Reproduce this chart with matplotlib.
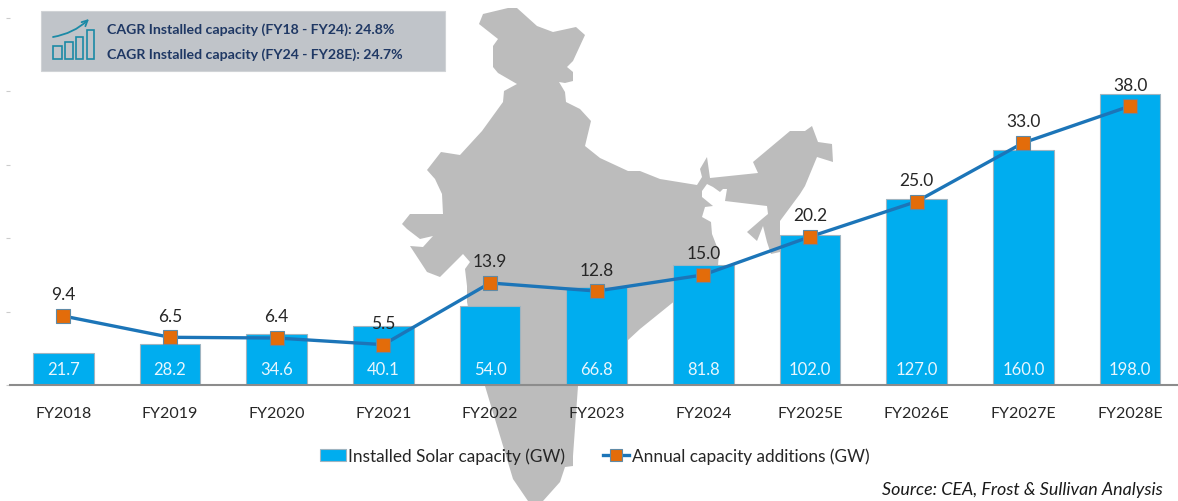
import matplotlib
matplotlib.use('Agg')
from matplotlib import pyplot as plt
from matplotlib.patches import Polygon, Rectangle, FancyArrowPatch
from matplotlib.lines import Line2D

plt.rcParams['font.family'] = ['Lato', 'DejaVu Sans']

years = ['FY2018', 'FY2019', 'FY2020', 'FY2021', 'FY2022', 'FY2023', 'FY2024',
         'FY2025E', 'FY2026E', 'FY2027E', 'FY2028E']
installed = [21.7, 28.2, 34.6, 40.1, 54.0, 66.8, 81.8, 102.0, 127.0, 160.0, 198.0]
additions = [9.4, 6.5, 6.4, 5.5, 13.9, 12.8, 15.0, 20.2, 25.0, 33.0, 38.0]
cagr_lines = ['CAGR Installed capacity (FY18 - FY24): 24.8%',
              'CAGR Installed capacity (FY24 - FY28E): 24.7%']

# outline of the background map, in image pixels
india = [(517, 9), (537, 27), (553, 33), (576, 28), (585, 36), (573, 62), (567, 68),
         (573, 73), (573, 82), (565, 84), (559, 83), (565, 93), (566, 103), (580, 110),
         (591, 122), (585, 147), (600, 159), (628, 172), (640, 172), (660, 180),
         (697, 186), (702, 178), (700, 170), (707, 158), (710, 179), (758, 174),
         (753, 163), (790, 132), (805, 132), (812, 127), (818, 143), (832, 145),
         (833, 163), (817, 158), (805, 187), (800, 195), (780, 222), (780, 253),
         (771, 255), (767, 243), (763, 227), (757, 242), (747, 233), (762, 220),
         (768, 215), (767, 207), (725, 202), (727, 190), (723, 190), (720, 193),
         (713, 188), (707, 185), (702, 192), (702, 198), (713, 207), (705, 208),
         (702, 218), (711, 223), (712, 235), (719, 253), (718, 267), (640, 330),
         (627, 342), (578, 387), (573, 457), (573, 467), (565, 468), (560, 483),
         (543, 502), (528, 502), (513, 480), (485, 387), (467, 303), (467, 287),
         (465, 270), (470, 263), (463, 255), (440, 278), (427, 273), (410, 247),
         (423, 248), (433, 237), (420, 240), (407, 230), (402, 225), (410, 215),
         (443, 215), (442, 195), (435, 180), (427, 171), (441, 153), (460, 156),
         (482, 132), (503, 103), (504, 92), (517, 85), (498, 74), (493, 68),
         (493, 47), (498, 40), (479, 25), (483, 15), (508, 9)]

W, H = 1178, 502
fig = plt.figure(figsize=(W / 100, H / 100), dpi=100, facecolor='white')

# background layer in pixel coordinates
bg = fig.add_axes([0, 0, 1, 1])
bg.set_xlim(0, W)
bg.set_ylim(H, 0)
bg.axis('off')
bg.add_patch(Polygon(india, closed=True, fc='#bcbcbc', ec='none'))

# chart
ax = fig.add_axes([10 / W, (H - 386) / H, (W - 10) / W, 367 / H])
ax.patch.set_alpha(0)
x = range(len(years))
bars = ax.bar(x, installed, width=0.57, color='#00adef', edgecolor='#9fb4c0', linewidth=0.8,
              label='Installed Solar capacity (GW)')
ax.set_xlim(-0.5, 10.45)
ax.set_ylim(0, 250)
ax.set_yticks(range(0, 251, 50))
ax.set_yticklabels([])
ax.tick_params(axis='y', length=3, color='#cccccc', width=0.8)
ax.tick_params(axis='x', length=0, pad=15, labelsize=11.5, labelcolor='#262626')
ax.set_xticks(list(x))
ax.set_xticklabels(years)
for s in ['top', 'right', 'left']:
    ax.spines[s].set_visible(False)
ax.spines['bottom'].set_color('#8c8c8c')
ax.spines['bottom'].set_linewidth(1.5)

for i, v in enumerate(installed):
    ax.annotate('{:.1f}'.format(v), (i, 0), xytext=(0, 11.5), textcoords='offset points',
                ha='center', va='center', color='#e8f6fd', fontsize=12, zorder=6)

ax2 = ax.twinx()
ax2.patch.set_alpha(0)
ax2.set_ylim(0, 50)
ax2.axis('off')
ax2.plot(x, additions, color='#1c75b8', linewidth=2.4, marker='s', markersize=9.5,
         markerfacecolor='#e36c0a', markeredgecolor='#5f8aa6', markeredgewidth=0.8,
         label='Annual capacity additions (GW)')
for i, v in enumerate(additions):
    ax2.annotate('{:.1f}'.format(v), (i, v), xytext=(0, 15.5), textcoords='offset points',
                 ha='center', va='center', color='#262626', fontsize=12.5)

# legend
handles = [bars, Line2D([], [], color='#1c75b8', linewidth=2.4, marker='s', markersize=8.5,
                        markerfacecolor='#e36c0a', markeredgecolor='#5f8aa6',
                        markeredgewidth=0.8)]
labels = ['Installed Solar capacity (GW)', 'Annual capacity additions (GW)']
fig.legend(handles, labels, loc='center', bbox_to_anchor=(594.5 / W, 1 - 457 / H), ncol=2,
           frameon=False, fontsize=12.4, labelcolor='#262626', handlelength=1.5,
           handletextpad=0.15, columnspacing=2.2, borderpad=0)

fig.text(1163 / W, 1 - 490 / H, 'Source: CEA, Frost & Sullivan Analysis', ha='right', va='center',
         style='italic', fontsize=12.9, color='#1a1a1a')

# CAGR box
top = fig.add_axes([0, 0, 1, 1])
top.set_xlim(0, W)
top.set_ylim(H, 0)
top.axis('off')
top.add_patch(Rectangle((41, 12), 404, 60, fc='#c0c4c9', ec='#d0d3d6', lw=0.8))
for left, bar_top, bar_w in [(53, 47, 9), (65, 43, 8), (76, 38, 7), (87, 31, 7)]:
    top.add_patch(Rectangle((left, bar_top), bar_w, 60 - bar_top, fc='none', ec='#1b8aa6', lw=1.2))
top.add_patch(FancyArrowPatch((53, 38), (89, 20), connectionstyle='arc3,rad=0.15',
                              arrowstyle='->', mutation_scale=10, color='#1b8aa6', lw=1.3,
                              shrinkA=0, shrinkB=0))
top.text(107, 29.5, cagr_lines[0], ha='left', va='center', color='#1f3864', fontsize=10.2, fontweight='bold')
top.text(107, 54.5, cagr_lines[1], ha='left', va='center', color='#1f3864', fontsize=10.2, fontweight='bold')

fig.savefig('out.png', dpi=100)
